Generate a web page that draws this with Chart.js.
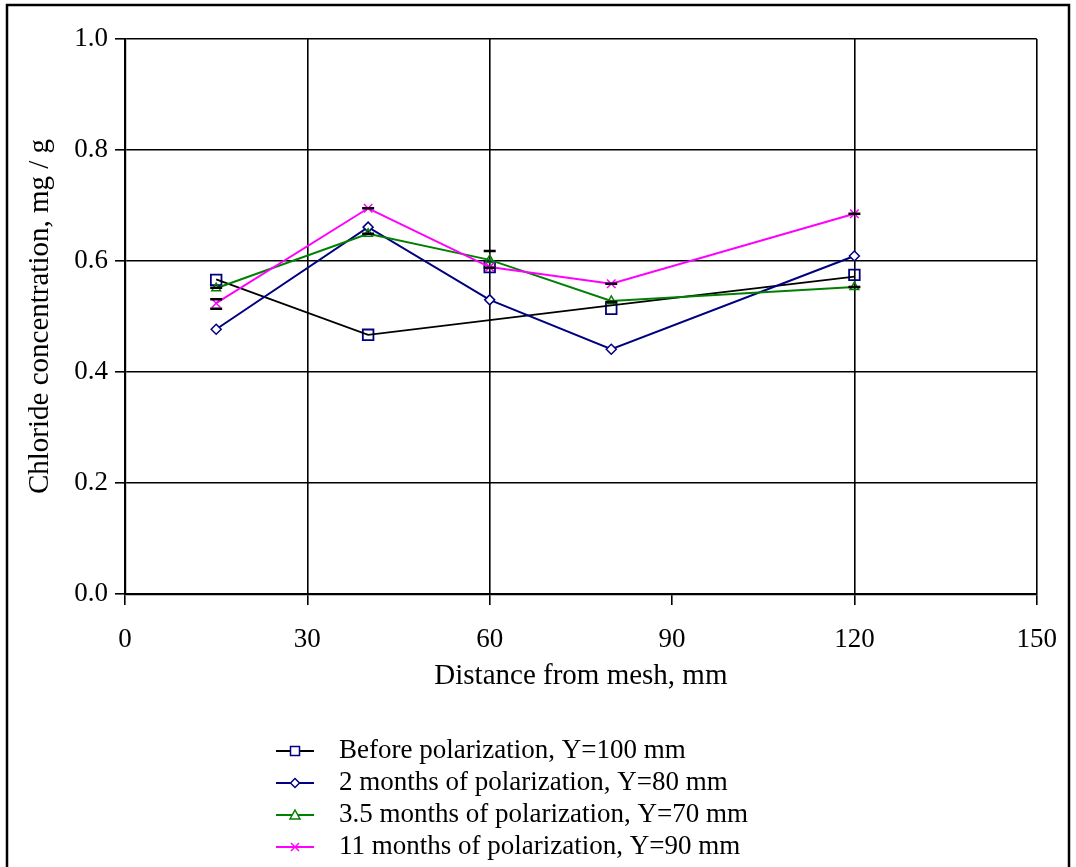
<!DOCTYPE html>
<html>
<head>
<meta charset="utf-8">
<script src="https://cdn.jsdelivr.net/npm/chart.js@4/dist/chart.umd.min.js"></script>
<style>
  html, body { margin: 0; padding: 0; background: #fff; }
  #wrap { width: 1076px; height: 867px; position: relative; }
</style>
</head>
<body>
<div id="wrap"><canvas id="chart" width="1076" height="867"></canvas></div>
<script>
// values
const xTicks = [0, 30, 60, 90, 120, 150];
const yTicks = [0, 0.2, 0.4, 0.6, 0.8, 1.0];
const distance = [15, 40, 60, 80, 120];
const beforeVals = [0.566, 0.467, 0.589, 0.514, 0.575];
const beforeTrend = [0.567, 0.467, null, 0.520, 0.572]; // black line skips the 60 mm point
const twoMonths = [0.477, 0.661, 0.530, 0.441, 0.609];
const threeHalfMonths = [0.551, 0.649, 0.602, 0.528, 0.553];
const elevenMonths = [0.524, 0.695, 0.589, 0.559, 0.685];
// short black error-bar caps
const capX = [15, 15, 15, 40, 40, 60, 60, 80, 80, 120, 120];
const capY = [0.552, 0.531, 0.514, 0.695, 0.649, 0.618, 0.588, 0.526, 0.559, 0.685, 0.553];
const labels = [
  'Before polarization, Y=100 mm',
  '2 months of polarization, Y=80 mm',
  '3.5 months of polarization, Y=70 mm',
  '11 months of polarization, Y=90 mm'
];

const NAVY = '#000080', GREEN = '#008000', MAG = '#ff00ff';
const FONT = '"Liberation Serif", "Times New Roman", serif';

function pts(vals) {
  return distance.map((x, i) => ({x: x, y: vals[i]})).filter(p => p.y !== null);
}

const legendItems = [
  {text: labels[0], line: '#000', mark: NAVY, style: 'rect'},
  {text: labels[1], line: NAVY, mark: NAVY, style: 'diamond'},
  {text: labels[2], line: GREEN, mark: GREEN, style: 'triangle'},
  {text: labels[3], line: MAG, mark: MAG, style: 'cross'}
];

function drawMark(ctx, style, x, y, color) {//small legend markers
  ctx.save();
  ctx.strokeStyle = color; ctx.lineWidth = 1.5;
  ctx.beginPath();
  if (style === 'rect') ctx.rect(x - 4.5, y - 4.5, 9, 9);
  else if (style === 'diamond') { ctx.moveTo(x, y - 4.5); ctx.lineTo(x + 4.5, y); ctx.lineTo(x, y + 4.5); ctx.lineTo(x - 4.5, y); ctx.closePath(); }
  else if (style === 'triangle') { ctx.moveTo(x, y - 5); ctx.lineTo(x + 5, y + 4); ctx.lineTo(x - 5, y + 4); ctx.closePath(); }
  else { ctx.moveTo(x - 4, y - 4); ctx.lineTo(x + 4, y + 4); ctx.moveTo(x + 4, y - 4); ctx.lineTo(x - 4, y + 4); }
  ctx.fillStyle = '#fff';
  if (style !== 'cross') ctx.fill();
  ctx.stroke();
  ctx.restore();
}

const framePlugin = {
  id: 'frame',
  beforeDraw(chart) {
    const ctx = chart.ctx;
    ctx.save();
    ctx.fillStyle = '#fff';
    ctx.fillRect(0, 0, chart.width, chart.height);
    ctx.strokeStyle = '#000'; ctx.lineWidth = 2.5;
    ctx.strokeRect(7, 5, 1062, 900);
    ctx.restore();
  },
  afterDraw(chart) {//legend rows below the axis title
    const ctx = chart.ctx;
    ctx.save();
    legendItems.forEach((it, i) => {
      const y = 751 + i * 32;
      ctx.strokeStyle = it.line; ctx.lineWidth = 2;
      ctx.beginPath(); ctx.moveTo(276, y); ctx.lineTo(314, y); ctx.stroke();
      drawMark(ctx, it.style, 295, y, it.mark);
      ctx.fillStyle = '#000';
      ctx.font = '27px ' + FONT;
      ctx.textBaseline = 'middle';
      ctx.fillText(it.text, 339, y);
    });
    ctx.restore();
  }
};

new Chart(document.getElementById('chart'), {
  type: 'scatter',
  data: {
    datasets: [
      {label: 'caps', data: capX.map((x, i) => ({x: x, y: capY[i]})), showLine: false,
       pointStyle: 'line', pointRadius: 6, borderColor: '#000', borderWidth: 2.5},
      {label: labels[3], data: pts(elevenMonths), showLine: true, borderColor: MAG, borderWidth: 2,
       pointStyle: 'crossRot', pointRadius: 6, pointBorderColor: MAG, pointBorderWidth: 1.5},
      {label: labels[2], data: pts(threeHalfMonths), showLine: true, borderColor: GREEN, borderWidth: 2,
       pointStyle: 'triangle', pointRadius: 5, pointBorderColor: GREEN, pointBackgroundColor: 'rgba(0,0,0,0)', pointBorderWidth: 1.5},
      {label: labels[1], data: pts(twoMonths), showLine: true, borderColor: NAVY, borderWidth: 2,
       pointStyle: 'rectRot', pointRadius: 5, pointBorderColor: NAVY, pointBackgroundColor: '#fff', pointBorderWidth: 1.5},
      {label: 'trend', data: pts(beforeTrend), showLine: true, borderColor: '#000', borderWidth: 1.8, pointRadius: 0},
      {label: labels[0], data: pts(beforeVals), showLine: false,
       pointStyle: 'rect', pointRadius: 7.5, pointBorderColor: NAVY, pointBackgroundColor: 'rgba(0,0,0,0)', pointBorderWidth: 1.8}
    ]
  },
  options: {
    responsive: false,
    animation: false,
    layout: {padding: {left: 10, top: 39, right: 39, bottom: 173}},
    plugins: {legend: {display: false}, tooltip: {enabled: false}},
    scales: {
      x: {
        type: 'linear', min: 0, max: 150,
        afterBuildTicks: s => { s.ticks = xTicks.map(v => ({value: v})); },
        afterFit: s => { s.height = 100; },
        ticks: {color: '#000', font: {family: FONT, size: 27}, padding: 19, maxRotation: 0},
        grid: {color: c => (c.tick && c.tick.value === 90 ? 'rgba(0,0,0,0)' : '#000'), tickColor: '#000',
               lineWidth: 1.6, tickLength: 11},
        border: {color: '#000', width: 2.2},
        title: {display: true, text: 'Distance from mesh, mm', color: '#000',
                font: {family: FONT, size: 29}, padding: {top: 0, bottom: 0}}
      },
      y: {
        min: 0, max: 1,
        afterBuildTicks: s => { s.ticks = yTicks.map(v => ({value: v})); },
        afterFit: s => { s.width = 115; },
        ticks: {color: '#000', font: {family: FONT, size: 27}, padding: 7, callback: v => v.toFixed(1)},
        grid: {color: '#000', lineWidth: 1.6, tickLength: 10},
        border: {color: '#000', width: 2.2},
        title: {display: true, text: 'Chloride concentration, mg / g', color: '#000',
                font: {family: FONT, size: 29}, padding: {top: 13, bottom: 0}}
      }
    }
  },
  plugins: [framePlugin]
});
</script>
</body>
</html>
